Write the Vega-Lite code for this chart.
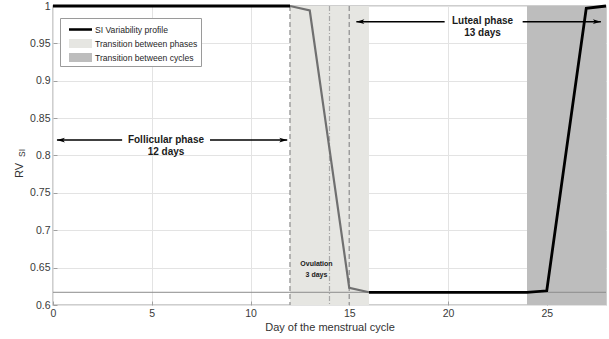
{
  "$schema": "https://vega.github.io/schema/vega-lite/v6.json",
  "width": 553,
  "height": 299,
  "autosize": {"type": "none"},
  "padding": {"left": 53, "top": 6, "right": 3, "bottom": 34},
  "background": "white",
  "config": {
    "font": "Liberation Sans",
    "view": {"stroke": "#bfbfbf", "strokeWidth": 1.5},
    "axis": {
      "domain": false,
      "grid": true,
      "gridColor": "#e3e3e3",
      "gridWidth": 1,
      "tickColor": "#a0a0a0",
      "tickSize": -4,
      "labelFont": "Liberation Sans",
      "labelFontSize": 10.5,
      "labelColor": "#3a3a3a",
      "labelOverlap": false,
      "labelFlush": false,
      "titleFont": "Liberation Sans",
      "titleFontWeight": "normal",
      "titleFontSize": 11,
      "titleColor": "#333333",
      "zindex": 1
    },
    "axisY": {"tickCount": 9}
  },
  "datasets": {
    "shades": [
      {"x": 12, "x2": 16, "kind": "Transition between phases"},
      {"x": 24, "x2": 28, "kind": "Transition between cycles"}
    ],
    "baseline": [{"x": 0, "x2": 28, "rv": 0.617}],
    "dashed": [{"day": 12}, {"day": 15}],
    "dashdot": [{"day": 14}],
    "grayseg": [
      {"day": 12, "rv": 1.0},
      {"day": 13, "rv": 0.994},
      {"day": 14, "rv": 0.8085},
      {"day": 15, "rv": 0.623},
      {"day": 16, "rv": 0.617}
    ],
    "blackseg": [
      {"day": 0, "rv": 1.0, "seg": "a"},
      {"day": 1, "rv": 1.0, "seg": "a"},
      {"day": 2, "rv": 1.0, "seg": "a"},
      {"day": 3, "rv": 1.0, "seg": "a"},
      {"day": 4, "rv": 1.0, "seg": "a"},
      {"day": 5, "rv": 1.0, "seg": "a"},
      {"day": 6, "rv": 1.0, "seg": "a"},
      {"day": 7, "rv": 1.0, "seg": "a"},
      {"day": 8, "rv": 1.0, "seg": "a"},
      {"day": 9, "rv": 1.0, "seg": "a"},
      {"day": 10, "rv": 1.0, "seg": "a"},
      {"day": 11, "rv": 1.0, "seg": "a"},
      {"day": 12, "rv": 1.0, "seg": "a"},
      {"day": 16, "rv": 0.617, "seg": "b"},
      {"day": 17, "rv": 0.617, "seg": "b"},
      {"day": 18, "rv": 0.617, "seg": "b"},
      {"day": 19, "rv": 0.617, "seg": "b"},
      {"day": 20, "rv": 0.617, "seg": "b"},
      {"day": 21, "rv": 0.617, "seg": "b"},
      {"day": 22, "rv": 0.617, "seg": "b"},
      {"day": 23, "rv": 0.617, "seg": "b"},
      {"day": 24, "rv": 0.617, "seg": "b"},
      {"day": 25, "rv": 0.619, "seg": "b"},
      {"day": 26, "rv": 0.8085, "seg": "b"},
      {"day": 27, "rv": 0.997, "seg": "b"},
      {"day": 28, "rv": 1.0, "seg": "b"}
    ],
    "shafts": [
      {"x": 0.2, "x2": 3.5, "y": 0.8207},
      {"x": 7.95, "x2": 11.86, "y": 0.8207},
      {"x": 15.36, "x2": 19.83, "y": 0.979},
      {"x": 23.78, "x2": 27.74, "y": 0.979}
    ],
    "heads": [
      {"x": 0.2, "y": 0.8207, "dir": "left"},
      {"x": 11.86, "y": 0.8207, "dir": "right"},
      {"x": 15.36, "y": 0.979, "dir": "left"},
      {"x": 27.74, "y": 0.979, "dir": "right"}
    ],
    "bigtext": [
      {"x": 5.72, "y": 0.8207, "t": "Follicular phase"},
      {"x": 5.72, "y": 0.8043, "t": "12 days"},
      {"x": 21.75, "y": 0.980, "t": "Luteal phase"},
      {"x": 21.75, "y": 0.9645, "t": "13 days"}
    ],
    "smalltext": [
      {"x": 13.34, "y": 0.6544, "t": "Ovulation"},
      {"x": 13.34, "y": 0.6401, "t": "3 days"}
    ],
    "sub": [{"x": -1.55, "y": 0.8034, "t": "SI"}]
  },
  "layer": [
    {
      "data": {"name": "shades"},
      "mark": {"type": "rect"},
      "encoding": {
        "x": {
          "field": "x", "type": "quantitative",
          "scale": {"domain": [0, 28], "nice": false, "zero": false},
          "axis": {"values": [0, 5, 10, 15, 20, 25], "title": "Day of the menstrual cycle", "labelPadding": 7, "titlePadding": 3}
        },
        "x2": {"field": "x2"},
        "color": {
          "field": "kind", "type": "nominal",
          "scale": {
            "domain": ["SI Variability profile", "Transition between phases", "Transition between cycles"],
            "range": ["#000000", "#e6e6e2", "#bdbdbd"]
          },
          "legend": {
            "title": null,
            "orient": "none",
            "legendX": 7,
            "legendY": 12,
            "fillColor": "white",
            "strokeColor": "#9a9a9a",
            "padding": 3,
            "labelFont": "Liberation Sans",
            "labelFontSize": 8.6,
            "labelColor": "#262626",
            "symbolSize": 289,
            "rowPadding": 0,
            "symbolOffset": 9,
            "labelOffset": 6,
            "encode": {
              "symbols": {
                "update": {
                  "shape": {"signal": "datum.value === 'SI Variability profile' ? 'M-1.35,-0.15H1.35V0.15H-1.35Z' : 'M-1.35,-0.53H1.35V0.53H-1.35Z'"},
                  "fill": {"scale": "color", "field": "value"},
                  "fillOpacity": {"value": 1},
                  "opacity": {"value": 1},
                  "stroke": {"value": "transparent"},
                  "strokeWidth": {"value": 0}
                }
              }
            }
          }
        }
      }
    },
    {
      "data": {"name": "baseline"},
      "mark": {"type": "rule", "color": "#8c8c8c", "strokeWidth": 1},
      "encoding": {
        "x": {"field": "x", "type": "quantitative"},
        "x2": {"field": "x2"},
        "y": {
          "field": "rv", "type": "quantitative",
          "scale": {"domain": [0.6, 1], "nice": false, "zero": false},
          "axis": {
            "values": [0.6, 0.65, 0.7, 0.75, 0.8, 0.85, 0.9, 0.95, 1],
            "tickCount": 9,
            "format": "~g",
            "title": "RV",
            "labelPadding": 7,
            "titleAngle": 270,
            "titleBaseline": "middle",
            "titleAlign": "center",
            "titleX": -34,
            "titleY": 164
          }
        }
      }
    },
    {
      "data": {"name": "dashed"},
      "mark": {"type": "rule", "color": "#9a9a9a", "strokeWidth": 1.4, "strokeDash": [5, 3]},
      "encoding": {"x": {"field": "day", "type": "quantitative"}}
    },
    {
      "data": {"name": "dashdot"},
      "mark": {"type": "rule", "color": "#a8a8a8", "strokeWidth": 1.2, "strokeDash": [5, 2, 1, 2]},
      "encoding": {"x": {"field": "day", "type": "quantitative"}}
    },
    {
      "data": {"name": "grayseg"},
      "mark": {"type": "line", "color": "#707070", "strokeWidth": 2.2},
      "encoding": {
        "x": {"field": "day", "type": "quantitative"},
        "y": {"field": "rv", "type": "quantitative"}
      }
    },
    {
      "data": {"name": "blackseg"},
      "mark": {"type": "line", "strokeWidth": 2.8},
      "encoding": {
        "x": {"field": "day", "type": "quantitative"},
        "y": {"field": "rv", "type": "quantitative"},
        "detail": {"field": "seg"},
        "color": {"datum": "SI Variability profile"}
      }
    },
    {
      "data": {"name": "shafts"},
      "mark": {"type": "rule", "color": "#000000", "strokeWidth": 1.5},
      "encoding": {
        "x": {"field": "x", "type": "quantitative"},
        "x2": {"field": "x2"},
        "y": {"field": "y", "type": "quantitative"}
      }
    },
    {
      "data": {"name": "heads"},
      "mark": {"type": "point", "filled": true, "color": "#000000", "size": 64, "opacity": 1},
      "encoding": {
        "x": {"field": "x", "type": "quantitative"},
        "y": {"field": "y", "type": "quantitative"},
        "shape": {
          "field": "dir", "type": "nominal",
          "scale": {"domain": ["left", "right"], "range": ["M0,0L2,-0.6L1.5,0L2,0.6Z", "M0,0L-2,-0.6L-1.5,0L-2,0.6Z"]},
          "legend": null
        }
      }
    },
    {
      "data": {"name": "bigtext"},
      "mark": {"type": "text", "font": "Liberation Sans", "fontSize": 10, "fontWeight": "bold", "color": "#1a1a1a", "baseline": "middle", "align": "center"},
      "encoding": {
        "x": {"field": "x", "type": "quantitative"},
        "y": {"field": "y", "type": "quantitative"},
        "text": {"field": "t"}
      }
    },
    {
      "data": {"name": "smalltext"},
      "mark": {"type": "text", "font": "Liberation Sans", "fontSize": 7, "fontWeight": "bold", "color": "#1a1a1a", "baseline": "middle", "align": "center"},
      "encoding": {
        "x": {"field": "x", "type": "quantitative"},
        "y": {"field": "y", "type": "quantitative"},
        "text": {"field": "t"}
      }
    },
    {
      "data": {"name": "sub"},
      "mark": {"type": "text", "font": "Liberation Sans", "fontSize": 8.5, "color": "#333333", "baseline": "middle", "align": "center", "angle": 270},
      "encoding": {
        "x": {"field": "x", "type": "quantitative"},
        "y": {"field": "y", "type": "quantitative"},
        "text": {"field": "t"}
      }
    }
  ]
}
